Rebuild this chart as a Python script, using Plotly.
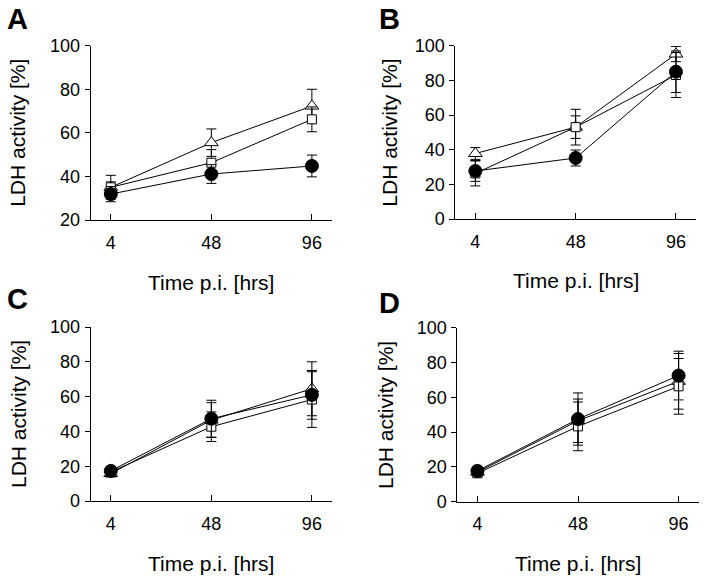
import plotly.graph_objects as go

time_labels = ["4", "48", "96"]
panel_letters = ["A", "B", "C", "D"]

# Panel A
tri_A = [35.0, 55.5, 72.3]
tri_A_err = [5.5, 6.3, 7.7]
sq_A = [35.0, 46.3, 66.2]
sq_A_err = [2.5, 6.0, 5.7]
circ_A = [31.9, 41.1, 44.8]
circ_A_err = [3.5, 4.3, 5.0]

# Panel B
tri_B = [37.8, 53.0, 95.2]
tri_B_err = [3.4, 6.5, 4.4]
sq_B = [26.3, 53.0, 83.1]
sq_B_err = [7.2, 10.3, 13.0]
circ_B = [27.7, 35.2, 85.0]
circ_B_err = [6.0, 4.6, 12.0]

# Panel C
tri_C = [15.8, 46.5, 64.5]
tri_C_err = [2.0, 10.0, 15.5]
sq_C = [16.7, 42.7, 58.3]
sq_C_err = [2.0, 8.5, 16.0]
circ_C = [17.3, 47.3, 61.0]
circ_C_err = [2.0, 10.6, 14.0]

# Panel D
tri_D = [17.0, 46.5, 69.2]
tri_D_err = [2.0, 12.5, 16.0]
sq_D = [16.3, 43.3, 66.3]
sq_D_err = [2.0, 14.0, 16.0]
circ_D = [17.7, 47.5, 72.5]
circ_D_err = [2.0, 15.0, 14.0]

y_ranges = [[20, 100], [0, 100], [0, 100], [0, 100]]

W, H = 704, 582
FONT = "Liberation Sans, Arial, sans-serif"

# pixel geometry of each panel: (x_left, x_right, y_top, y_bottom)
geom = [
    (90.7, 332.0, 45.7, 220.0),
    (455.3, 696.0, 45.7, 219.0),
    (90.7, 332.0, 327.0, 501.0),
    (457.3, 698.7, 327.7, 501.7),
]
ytitle_offset = [72.7, 66.0, 72.7, 72.0]
letter_pos = [(5, 18.5), (377, 18.5), (5, 298.5), (377, 303.0)]

panels = [
    (tri_A, tri_A_err, sq_A, sq_A_err, circ_A, circ_A_err),
    (tri_B, tri_B_err, sq_B, sq_B_err, circ_B, circ_B_err),
    (tri_C, tri_C_err, sq_C, sq_C_err, circ_C, circ_C_err),
    (tri_D, tri_D_err, sq_D, sq_D_err, circ_D, circ_D_err),
]

fig = go.Figure()
layout = {}
annotations = []

for i, (p, g) in enumerate(zip(panels, geom)):
    n = "" if i == 0 else str(i + 1)
    xa, ya = "x" + n, "y" + n
    tri, tri_e, sq, sq_e, ci, ci_e = p
    series = [
        (tri, tri_e, "triangle-up", 12, "white"),
        (sq, sq_e, "square", 9, "white"),
        (ci, ci_e, "circle", 13, "black"),
    ]
    for vals, errs, sym, size, fill in series:
        fig.add_trace(go.Scatter(
            x=time_labels, y=vals, xaxis=xa, yaxis=ya,
            mode="lines+markers",
            line=dict(color="black", width=1),
            marker=dict(symbol=sym, size=size, color=fill,
                        line=dict(color="black", width=1)),
            error_y=dict(type="data", array=errs, visible=True,
                         color="black", thickness=1, width=5),
            showlegend=False,
        ))
    xl, xr, yt, yb = g
    layout["xaxis" + n] = dict(
        domain=[xl / W, xr / W], anchor=ya, type="category",
        range=[-0.2, 2.2], showline=True, linecolor="black", linewidth=1,
        ticks="inside", ticklen=6, tickcolor="black", showgrid=False,
        zeroline=False, tickfont=dict(family=FONT, size=18, color="black"),
        ticklabelstandoff=6, automargin=False,
    )
    layout["yaxis" + n] = dict(
        domain=[(H - yb) / H, (H - yt) / H], anchor=xa,
        range=y_ranges[i], dtick=20, showline=True, linecolor="black",
        linewidth=1, ticks="outside", ticklen=5, tickcolor="black",
        showgrid=False, zeroline=False, automargin=False,
        tickfont=dict(family=FONT, size=18, color="black"),
        ticklabelstandoff=1,
    )
    # y-axis title
    annotations.append(dict(
        text="LDH activity [%]", xref="paper", yref="paper",
        x=(xl - ytitle_offset[i]) / W, y=(H - (yt + yb) / 2) / H,
        xanchor="center", yanchor="middle", textangle=-90, showarrow=False,
        font=dict(family=FONT, size=21, color="black"),
    ))
    # x-axis title
    annotations.append(dict(
        text="Time p.i. [hrs]", xref="paper", yref="paper",
        x=(xl + xr) / 2 / W, y=(H - (yb + 62)) / H,
        xanchor="center", yanchor="middle", showarrow=False,
        font=dict(family=FONT, size=21, color="black"),
    ))
    # panel letter
    lx, ly = letter_pos[i]
    annotations.append(dict(
        text="<b>" + panel_letters[i] + "</b>", xref="paper", yref="paper",
        x=lx / W, y=(H - ly) / H,
        xanchor="left", yanchor="middle", showarrow=False,
        font=dict(family=FONT, size=29, color="black"),
    ))

fig.update_layout(
    width=W, height=H, margin=dict(l=0, r=0, t=0, b=0),
    paper_bgcolor="white", plot_bgcolor="white",
    annotations=annotations, **layout,
)

fig.write_html(
    "out.html",
    config={"displayModeBar": False},
    post_script="document.body.style.margin='0';document.body.style.overflow='hidden';",
)
